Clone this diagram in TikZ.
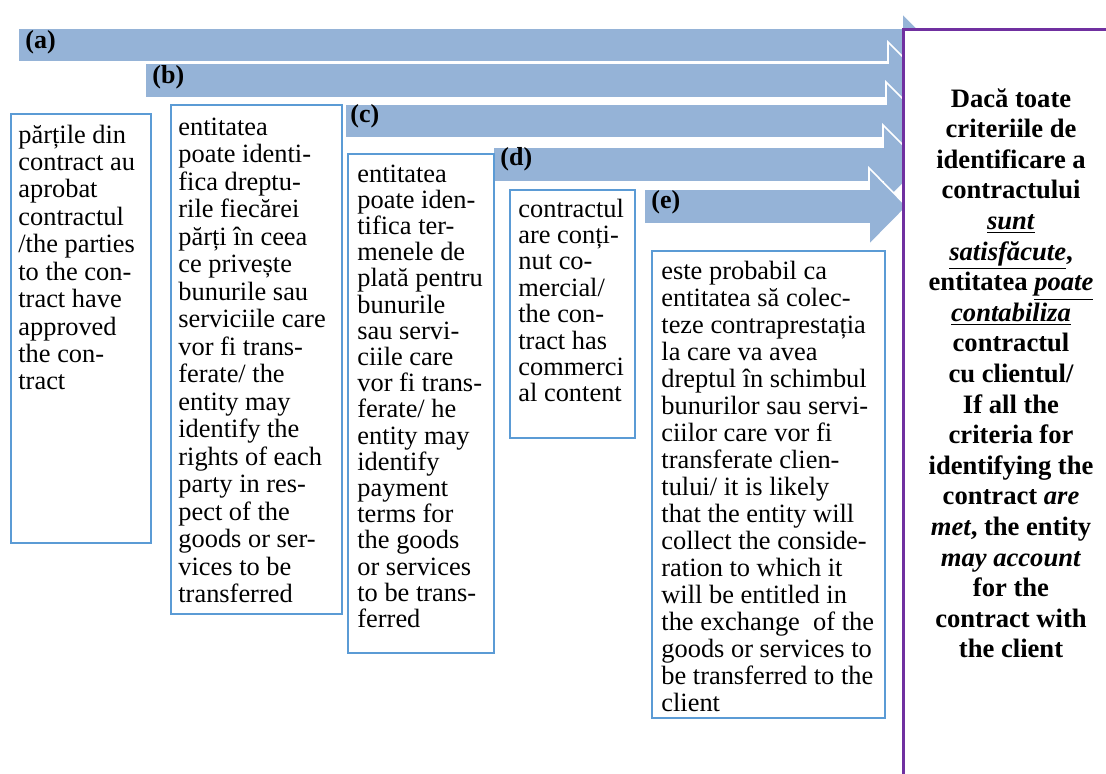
\documentclass[tikz,border=0pt]{standalone}
\usepackage{fontspec}
\setmainfont{Liberation Serif}
\definecolor{arrowblue}{RGB}{149,179,215}
\definecolor{boxblue}{RGB}{91,155,213}
\definecolor{framepurple}{RGB}{112,48,160}
\newcommand\Lrow[1]{\hbox{#1}}
\newcommand\Crow[1]{\hbox to 0pt{\hss #1\hss}}
\newcommand\ui[1]{\underline{\textit{#1}}}
\tikzset{
  arrowshape/.style={fill=arrowblue, draw=white, line width=0.8pt, line join=miter},
  bluebox/.style={draw=boxblue, line width=1.2pt, fill=white, anchor=north west, inner sep=0pt},
  boxtext/.style={anchor=base west, inner sep=0pt, font=\fontsize{13.2pt}{13.75pt}\selectfont},
  lab/.style={anchor=base west, inner sep=0pt, font=\fontsize{13pt}{14pt}\selectfont\bfseries},
  resbox/.style={draw=framepurple, line width=1.3pt, fill=white, anchor=north west, inner sep=0pt},
  restext/.style={anchor=base, inner sep=0pt, font=\fontsize{13.3pt}{15.3pt}\selectfont\bfseries}
}
\begin{document}
\begin{tikzpicture}[x=0.5pt,y=-0.5pt]
\useasboundingbox (0,0) rectangle (1106,773);
\clip (0,0) rectangle (1106,773);
% arrows
\path[arrowshape] (18,28) -- (902,28) -- (902,13) -- (934,45) -- (902,77) -- (902,62) -- (18,62) -- cycle;
\path[arrowshape] (145,63) -- (888,63) -- (888,42) -- (926.5,80.5) -- (888,119) -- (888,98) -- (145,98) -- cycle;
\path[arrowshape] (345,104) -- (886,104) -- (886,82) -- (925,121) -- (886,160) -- (886,138) -- (345,138) -- cycle;
\path[arrowshape] (493,147) -- (883,147) -- (883,125) -- (922.5,164.5) -- (883,204) -- (883,182) -- (493,182) -- cycle;
\path[arrowshape] (644,189) -- (869,189) -- (869,168) -- (907,206.5) -- (869,245) -- (869,224) -- (644,224) -- cycle;
% labels
\node[lab] (la) at (25,48) {(a)};
\node[lab] (lb) at (152,83) {(b)};
\node[lab] (lc) at (350,122) {(c)};
\node[lab] (ld) at (500,165) {(d)};
\node[lab] (le) at (651,208) {(e)};
% boxes
\node[bluebox, minimum width=70pt, minimum height=214.5pt] (b1) at (10,113) {};
\node[bluebox, minimum width=85.5pt, minimum height=254.5pt] (b2) at (170,104) {};
\node[bluebox, minimum width=73pt, minimum height=249.5pt] (b3) at (347,153) {};
\node[bluebox, minimum width=62.5pt, minimum height=124pt] (b4) at (509,189) {};
\node[bluebox, minimum width=116.5pt, minimum height=233.5pt] (b5) at (651,250) {};
% box texts
\node[boxtext] (t1) at (18,143) {\vtop{\baselineskip=13.72pt
\Lrow{părțile din}\Lrow{contract au}\Lrow{aprobat}\Lrow{contractul}\Lrow{/the parties}\Lrow{to the con-}\Lrow{tract have}\Lrow{approved}\Lrow{the con-}\Lrow{tract}}};
\node[boxtext] (t2) at (178,135) {\vtop{\baselineskip=13.76pt
\Lrow{entitatea}\Lrow{poate identi-}\Lrow{fica dreptu-}\Lrow{rile fiecărei}\Lrow{părți în ceea}\Lrow{ce privește}\Lrow{bunurile sau}\Lrow{serviciile care}\Lrow{vor fi trans-}\Lrow{ferate/ the}\Lrow{entity may}\Lrow{identify the}\Lrow{rights of each}\Lrow{party in res-}\Lrow{pect of the}\Lrow{goods or ser-}\Lrow{vices to be}\Lrow{transferred}}};
\node[boxtext] (t3) at (357,182) {\vtop{\baselineskip=13.1pt
\Lrow{entitatea}\Lrow{poate iden-}\Lrow{tifica ter-}\Lrow{menele de}\Lrow{plată pentru}\Lrow{bunurile}\Lrow{sau servi-}\Lrow{ciile care}\Lrow{vor fi trans-}\Lrow{ferate/ he}\Lrow{entity may}\Lrow{identify}\Lrow{payment}\Lrow{terms for}\Lrow{the goods}\Lrow{or services}\Lrow{to be trans-}\Lrow{ferred}}};
\node[boxtext] (t4) at (518,217) {\vtop{\baselineskip=13.2pt
\Lrow{contractul}\Lrow{are conți-}\Lrow{nut co-}\Lrow{mercial/}\Lrow{the con-}\Lrow{tract has}\Lrow{commerci}\Lrow{al content}}};
\node[boxtext] (t5) at (661,279) {\vtop{\baselineskip=13.53pt
\Lrow{este probabil ca}\Lrow{entitatea să colec-}\Lrow{teze contraprestația}\Lrow{la care va avea}\Lrow{dreptul în schimbul}\Lrow{bunurilor sau servi-}\Lrow{ciilor care vor fi}\Lrow{transferate clien-}\Lrow{tului/ it is likely}\Lrow{that the entity will}\Lrow{collect the conside-}\Lrow{ration to which it}\Lrow{will be entitled in}\Lrow{the exchange\ \ of the}\Lrow{goods or services to}\Lrow{be transferred to the}\Lrow{client}}};
% result box
\node[resbox, minimum width=115pt, minimum height=390pt] (res) at (902,28) {};
\node[restext] (rt) at (1011,107) {\vtop{\baselineskip=15.3pt
\Crow{Dacă toate}\Crow{criteriile de}\Crow{identificare a}\Crow{contractului}\Crow{\ui{sunt}}\Crow{\ui{satisfăcute},}\Crow{entitatea \ui{poate}}\Crow{\ui{contabiliza}}\Crow{contractul}\Crow{cu clientul/}\Crow{If all the}\Crow{criteria for}\Crow{identifying the}\Crow{contract \textit{are}}\Crow{\textit{met}, the entity}\Crow{\textit{may account}}\Crow{for the}\Crow{contract with}\Crow{the client}}};
\end{tikzpicture}
\end{document}
